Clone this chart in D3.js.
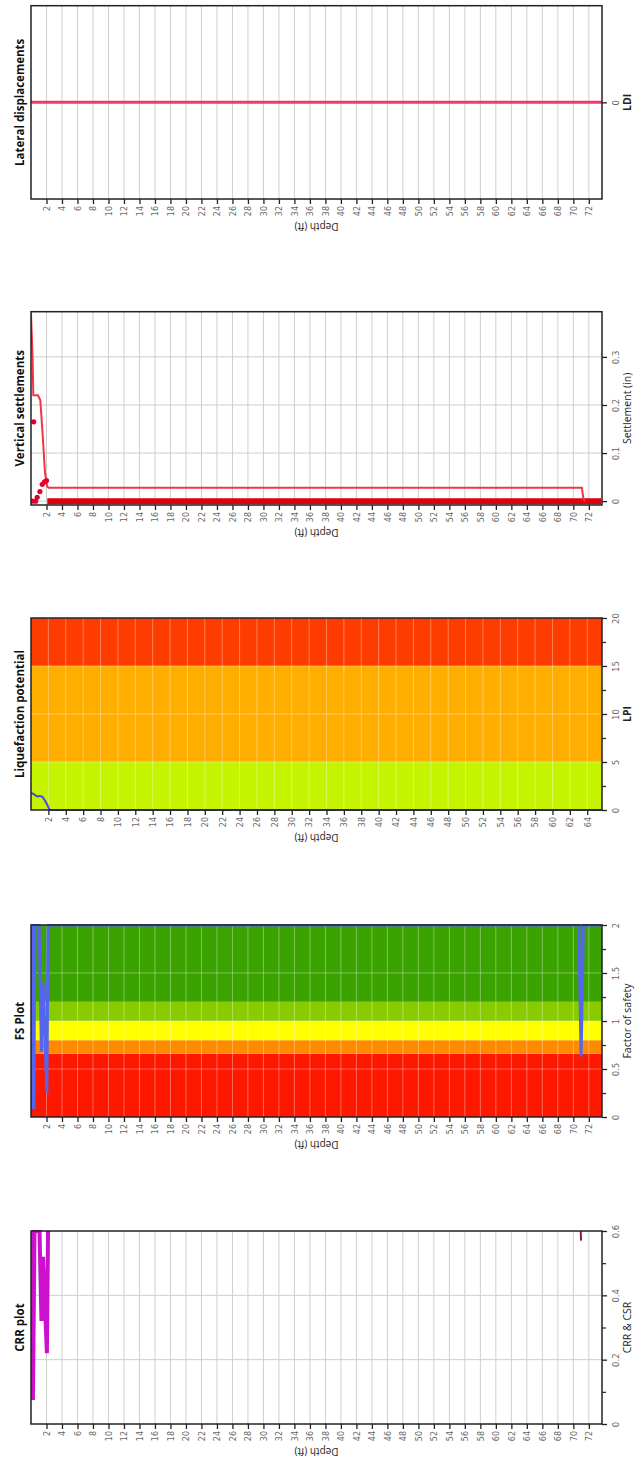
<!DOCTYPE html>
<html><head><meta charset="utf-8">
<script src="https://cdn.jsdelivr.net/npm/d3@7"></script>
<style>
html,body{margin:0;padding:0;background:#fff;}
svg{display:block;}
</style></head>
<body>
<svg id="chart" width="636" height="1464"></svg>
<script>
// ---------- data ----------
const panelTitles = ["Lateral displacements","Vertical settlements","Liquefaction potential","FS Plot","CRR plot"];
const valueAxisTitles = ["LDI","Settlement (in)","LPI","Factor of safety","CRR & CSR"];
const depthTicks72 = [2,4,6,8,10,12,14,16,18,20,22,24,26,28,30,32,34,36,38,40,42,44,46,48,50,52,54,56,58,60,62,64,66,68,70,72];
const depthTicks64 = [2,4,6,8,10,12,14,16,18,20,22,24,26,28,30,32,34,36,38,40,42,44,46,48,50,52,54,56,58,60,62,64];

// Lateral displacements (depth, LDI)
const ldiDepth = [0, 73.7];
const ldiValue = [0, 0];
const ldiTicks = [0];

// Vertical settlements
const setLineDepth = [0.0, 0.2, 0.3, 0.9, 1.2, 1.5, 1.8, 2.1, 2.3, 71.1, 71.3, 71.5];
const setLineValue = [0.39, 0.30, 0.22, 0.22, 0.21, 0.14, 0.06, 0.03, 0.028, 0.028, 0.005, 0.0];
const setPointDepth = [0.15, 0.35, 0.6, 0.8, 1.15, 1.45, 1.75, 2.0];
const setPointValue = [0.0, 0.165, 0.0, 0.008, 0.02, 0.035, 0.04, 0.043];
const setZeroDepth = [2.1, 73.6];
const setZeroValue = [0, 0];
const setTicks = [0, 0.1, 0.2, 0.3];
const setTickLabels = ["0","0.1","0.2","0.3"];

// Liquefaction potential
const lpiDepth = [0.0, 0.4, 0.7, 1.0, 1.3, 1.6, 1.9, 2.1, 2.3, 65.7];
const lpiValue = [1.8, 1.6, 1.4, 1.45, 1.4, 1.0, 0.5, 0.05, 0, 0];
const lpiBandEdges = [0, 5, 15, 20];
const lpiTicks = [0, 5, 10, 15, 20];
const lpiMinor = [2.5, 7.5, 12.5, 17.5];

// FS plot
const fsDepth = [0.0, 0.08, 0.22, 0.36, 0.5, 1.05, 1.35, 1.55, 2.05, 2.2, 70.7, 71.0, 71.3, 73.7];
const fsValue = [2.0, 2.0, 0.1, 0.1, 2.0, 2.0, 0.68, 1.4, 0.25, 2.0, 2.0, 0.63, 2.0, 2.0];
const fsBandEdges = [0, 0.66, 0.8, 1.0, 1.2, 2.0];
const fsTicks = [0, 0.5, 1, 1.5, 2];
const fsTickLabels = ["0","0.5","1","1.5","2"];
const fsMinor = [0.25, 0.75, 1.25, 1.75];

// CRR plot
const crrDepth = [0.05, 0.25, 0.45, 1.1, 1.35, 1.55, 2.05, 2.2];
const crrValue = [0.6, 0.075, 0.6, 0.6, 0.32, 0.52, 0.22, 0.6];
const csrDepth = [70.95, 71.0];
const csrValue = [0.6, 0.57];
const crrTicks = [0, 0.2, 0.4, 0.6];
const crrTickLabels = ["0","0.2","0.4","0.6"];
const crrMinor = [0.1, 0.3, 0.5];

// ---------- drawing ----------
const svg = d3.select("#chart");
const X0 = 31, X1 = 602;
const zip = (a, b) => a.map((d, i) => [d, b[i]]);

function panel(opt) {
  const g = svg.append("g");
  const x = d3.scaleLinear().domain([0, opt.depthMax]).range([X0, X1]);
  const y = d3.scaleLinear().domain(opt.yDomain).range([opt.bottom, opt.top]);
  const clipId = "clip" + opt.idx;
  svg.append("clipPath").attr("id", clipId).append("rect")
    .attr("x", X0).attr("y", opt.top - 1).attr("width", X1 - X0).attr("height", opt.bottom - opt.top + 2);
  const plot = g.append("g").attr("clip-path", `url(#${clipId})`);
  if (opt.bands) {
    opt.bands.edges.slice(0, -1).forEach((e, i) => {
      const e2 = opt.bands.edges[i + 1];
      plot.append("rect").attr("x", X0).attr("width", X1 - X0)
        .attr("y", y(e2)).attr("height", y(e) - y(e2)).attr("fill", opt.bands.colors[i]);
    });
  }
  const gridColor = opt.bands ? "rgba(255,255,255,0.35)" : "#cfcfcf";
  plot.selectAll(".vg").data(opt.depthTicks).enter().append("line")
    .attr("x1", d => x(d)).attr("x2", d => x(d)).attr("y1", opt.top).attr("y2", opt.bottom)
    .attr("stroke", gridColor).attr("stroke-width", 1);
  plot.selectAll(".hg").data(opt.yTicks.filter(t => y(t) > opt.top + 2 && y(t) < opt.bottom - 2)).enter().append("line")
    .attr("x1", X0).attr("x2", X1).attr("y1", d => y(d)).attr("y2", d => y(d))
    .attr("stroke", gridColor).attr("stroke-width", 1);
  // frame
  g.append("rect").attr("x", X0).attr("y", opt.top).attr("width", X1 - X0).attr("height", opt.bottom - opt.top)
    .attr("fill", "none").attr("stroke", "#222").attr("stroke-width", 1.5);
  opt.draw(plot, x, y);
  // depth axis
  const ax = g.append("g").attr("transform", `translate(0,${opt.bottom})`)
    .call(d3.axisBottom(x).tickValues(opt.depthTicks).tickSize(5).tickSizeOuter(0));
  ax.select(".domain").remove();
  ax.selectAll(".tick line").attr("stroke", "#222").attr("stroke-width", 1.3);
  ax.selectAll(".tick text").attr("transform", "rotate(-90)").attr("x", -7).attr("y", 0).attr("dy", "0.35em")
    .attr("text-anchor", "end").attr("fill", "#666").style("font-family", "DejaVu Sans").style("font-size", "8px");
  // value axis
  const ay = g.append("g").attr("transform", `translate(${X1},0)`)
    .call(d3.axisRight(y).tickValues(opt.yTicks).tickSize(5).tickFormat((d, i) => opt.yLabels[i]));
  ay.select(".domain").remove();
  ay.selectAll(".tick line").attr("stroke", "#222").attr("stroke-width", 1.3);
  ay.selectAll(".tick text").attr("transform", "rotate(-90)").attr("x", 0).attr("y", 14).attr("dy", "0.35em")
    .attr("text-anchor", "middle").attr("fill", "#666").style("font-family", "DejaVu Sans").style("font-size", "8.5px");
  if (opt.yMinor) {
    const am = g.append("g").attr("transform", `translate(${X1},0)`)
      .call(d3.axisRight(y).tickValues(opt.yMinor).tickSize(4).tickFormat(""));
    am.select(".domain").remove();
    am.selectAll(".tick line").attr("stroke", "#222").attr("stroke-width", 1.2);
  }
  // titles
  const mid = (opt.top + opt.bottom) / 2;
  g.append("text").attr("transform", `translate(20,${mid}) rotate(-90)`).attr("dy", "0.35em")
    .attr("text-anchor", "middle").style("font-family", "Open Sans").style("font-weight", "bold")
    .style("font-size", "11.5px").attr("fill", "#111").text(opt.title);
  g.append("text").attr("transform", `translate(627,${mid}) rotate(-90)`).attr("dy", "0.35em")
    .attr("text-anchor", "middle").style("font-family", "Open Sans").style("font-weight", opt.boldAxis ? "bold" : "normal")
    .style("font-size", "10.5px").attr("fill", "#222").text(opt.axisTitle);
  g.append("text").attr("transform", `translate(${(X0 + X1) / 2},${opt.bottom + 24}) rotate(180)`)
    .attr("text-anchor", "middle").style("font-family", "Open Sans")
    .style("font-size", "10px").attr("fill", "#222").text("Depth (ft)");
}

const line = (x, y) => d3.line().x(d => x(d[0])).y(d => y(d[1]));

// Lateral
panel({
  idx: 0, top: 5.7, bottom: 199, depthMax: 73.7, depthTicks: depthTicks72,
  yDomain: [-1, 1], yTicks: ldiTicks, yLabels: ["0"], title: panelTitles[0], axisTitle: valueAxisTitles[0], boldAxis: true,
  draw: (p, x, y) => {
    p.append("path").datum(zip(ldiDepth, ldiValue)).attr("d", line(x, y))
      .attr("fill", "none").attr("stroke", "#ee3b6a").attr("stroke-width", 3);
  }
});

// Vertical settlements
panel({
  idx: 1, top: 311.7, bottom: 505, depthMax: 73.7, depthTicks: depthTicks72,
  yDomain: [-0.008, 0.394], yTicks: setTicks, yLabels: setTickLabels, title: panelTitles[1], axisTitle: valueAxisTitles[1],
  draw: (p, x, y) => {
    p.append("path").datum(zip(setZeroDepth, setZeroValue)).attr("d", line(x, y))
      .attr("fill", "none").attr("stroke", "#e00010").attr("stroke-width", 6);
    p.append("path").datum(zip(setLineDepth, setLineValue)).attr("d", line(x, y))
      .attr("fill", "none").attr("stroke", "#f03545").attr("stroke-width", 2);
    p.selectAll(".pt").data(zip(setPointDepth, setPointValue)).enter().append("circle")
      .attr("cx", d => x(d[0])).attr("cy", d => y(d[1])).attr("r", 2.6).attr("fill", "#e4002a");
  }
});

// Liquefaction potential
panel({
  idx: 2, top: 618, bottom: 810, depthMax: 65.7, depthTicks: depthTicks64,
  yDomain: [0, 20], yTicks: lpiTicks, yLabels: ["0","5","10","15","20"], yMinor: lpiMinor,
  bands: { edges: lpiBandEdges, colors: ["#c6f400", "#ffae00", "#ff3c00"] },
  title: panelTitles[2], axisTitle: valueAxisTitles[2], boldAxis: true,
  draw: (p, x, y) => {
    p.append("path").datum(zip(lpiDepth, lpiValue)).attr("d", line(x, y))
      .attr("fill", "none").attr("stroke", "#4a4ad8").attr("stroke-width", 2);
  }
});

// FS plot
panel({
  idx: 3, top: 925, bottom: 1117, depthMax: 73.7, depthTicks: depthTicks72,
  yDomain: [0, 2], yTicks: fsTicks, yLabels: fsTickLabels, yMinor: fsMinor,
  bands: { edges: fsBandEdges, colors: ["#ff1800", "#ff8a00", "#ffff00", "#88cc00", "#3aa300"] },
  title: panelTitles[3], axisTitle: valueAxisTitles[3],
  draw: (p, x, y) => {
    p.append("path").datum(zip(fsDepth, fsValue)).attr("d", line(x, y))
      .attr("fill", "none").attr("stroke", "#5566ee").attr("stroke-width", 3);
  }
});

// CRR plot
panel({
  idx: 4, top: 1231, bottom: 1424, depthMax: 73.7, depthTicks: depthTicks72,
  yDomain: [0, 0.6], yTicks: crrTicks, yLabels: crrTickLabels, yMinor: crrMinor,
  title: panelTitles[4], axisTitle: valueAxisTitles[4],
  draw: (p, x, y) => {
    p.append("path").datum(zip(crrDepth, crrValue)).attr("d", line(x, y))
      .attr("fill", "none").attr("stroke", "#cc11cc").attr("stroke-width", 4);
    p.append("path").datum(zip(csrDepth, csrValue)).attr("d", line(x, y))
      .attr("fill", "none").attr("stroke", "#8b1a3a").attr("stroke-width", 2);
  }
});
</script>
</body></html>
